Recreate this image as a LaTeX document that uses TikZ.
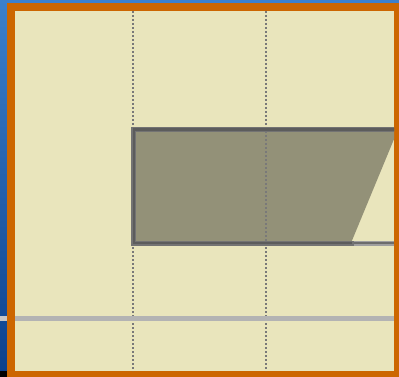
\documentclass[tikz,border=0pt]{standalone}
\begin{document}
\begin{tikzpicture}[x=1pt,y=-1pt,
  dotline/.style={draw=gray!95!black, line width=1.6pt, dash pattern=on 2pt off 2pt},
  edgehalo/.style={draw=gray!90!black, line width=5pt},
  edgecore/.style={draw=black!64, line width=2.6pt}]
\definecolor{orng}{HTML}{CC6600}
\definecolor{cream}{HTML}{E9E5BC}
\definecolor{band}{HTML}{B3B3B3}
\definecolor{olive}{HTML}{939178}
\definecolor{bluetop}{HTML}{3C80CC}
\definecolor{bluebot}{HTML}{0B408C}
\useasboundingbox (0,0) rectangle (399,377);
% desktop background
\shade[top color=bluetop, bottom color=bluebot] (0,0) rectangle (399,377);
\fill[black] (0,371) rectangle (7,377);
\fill[gray!45] (0,316) rectangle (7,321);
% orange frame
\fill[orng] (7,3) rectangle (399,377);
\fill[cream] (15,11) rectangle (394,371);
\begin{scope}
\clip (15,11) rectangle (394,371);
% trapezoid
\fill[olive] (134,129.5) -- (398,129.5) -- (351,243) -- (134,243) -- cycle;
\draw[dotline] (133,11) -- (133,371);
\draw[dotline] (266,11) -- (266,371);
\fill[band] (15,316) rectangle (394,321);
% edges
\draw[edgehalo, draw=gray!75] (351,243) -- (394,243);
\draw[draw=gray!85!black, line width=2.6pt] (351,243) -- (394,243);
\draw[edgehalo, line cap=rect] (394,129.5) -- (133.8,129.5) -- (133.8,243) -- (351,243);
\draw[edgecore, line cap=rect] (394,129.5) -- (133.8,129.5) -- (133.8,243) -- (351,243);
\end{scope}
\end{tikzpicture}
\end{document}
